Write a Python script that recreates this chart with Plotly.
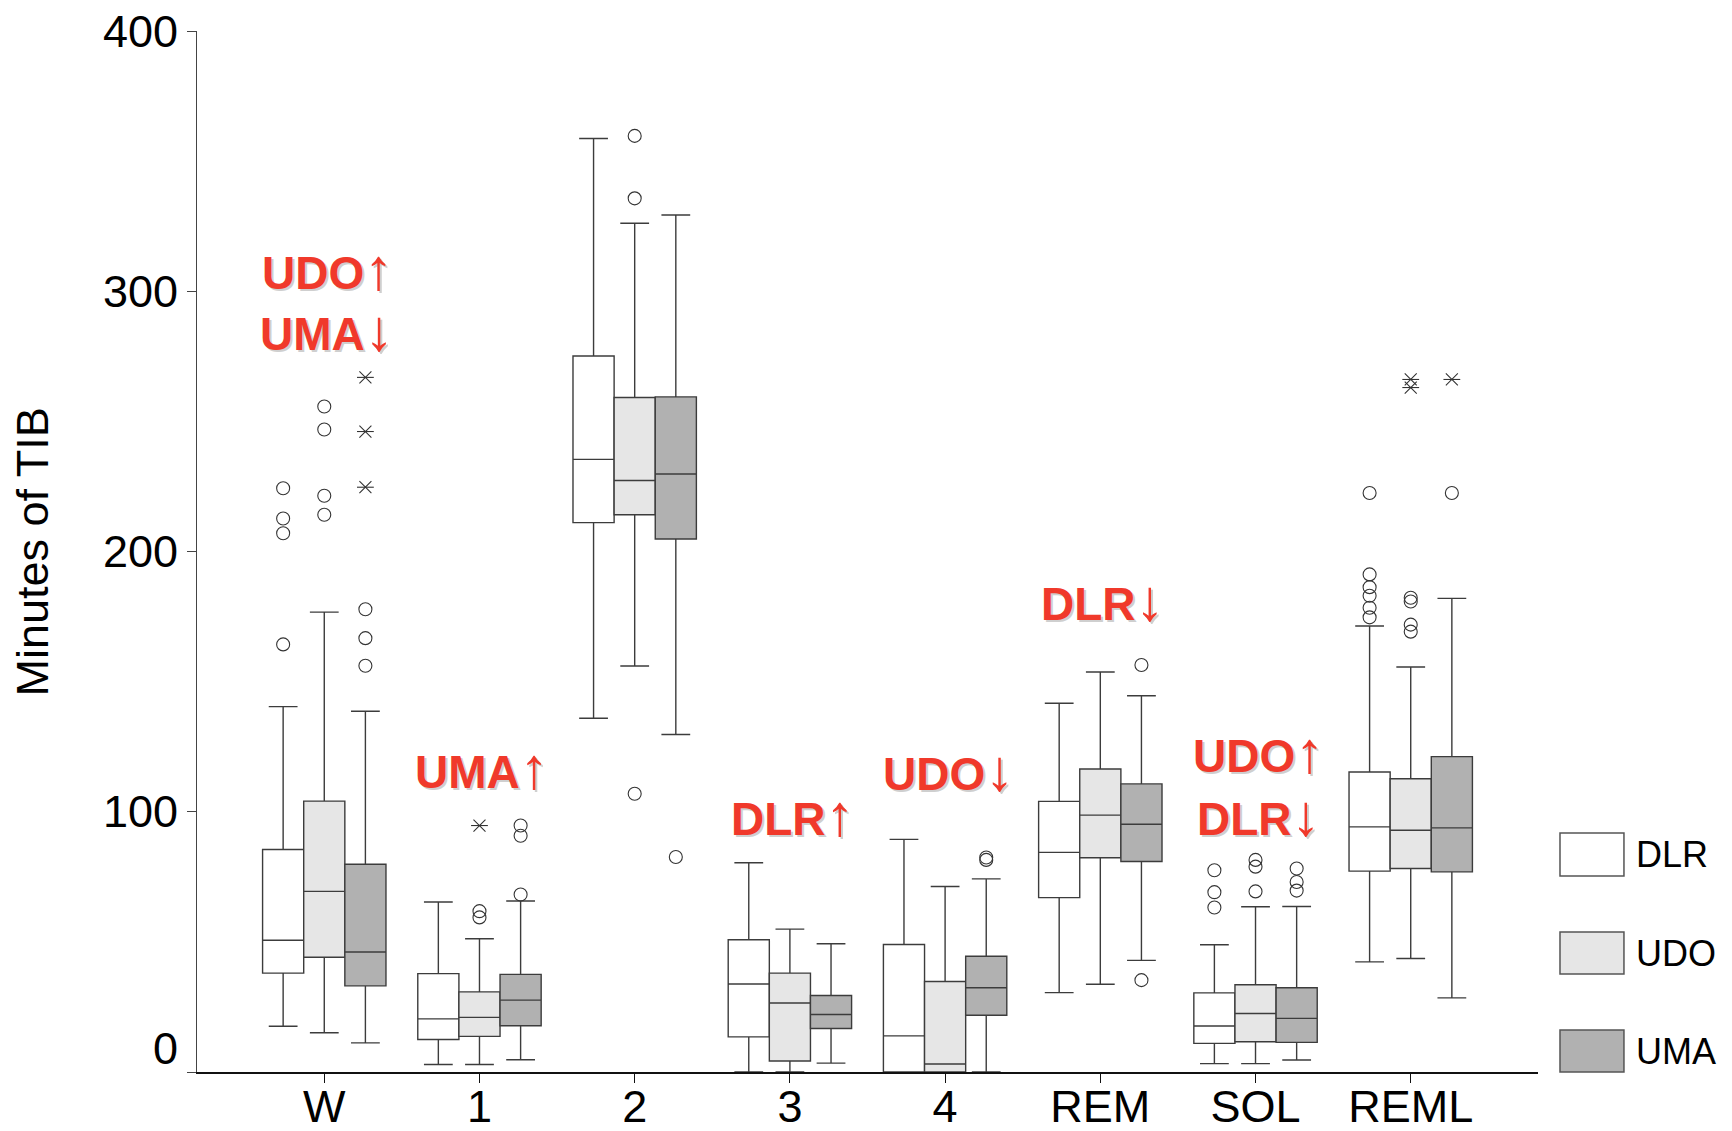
import plotly.graph_objects as go

# ---------------- data ----------------
categories = ["W", "1", "2", "3", "4", "REM", "SOL", "REML"]
groups = ["DLR", "UDO", "UMA"]
y_ticks = [0, 100, 200, 300, 400]

dlr_q1 = [38.0, 12.5, 211.1, 13.5, 0.0, 67.0, 11.0, 77.2]
dlr_median = [50.6, 20.4, 235.4, 33.8, 13.9, 84.4, 17.7, 94.2]
dlr_q3 = [85.5, 37.8, 275.1, 50.8, 49.0, 104.0, 30.4, 115.3]
dlr_lower = [17.6, 2.9, 135.9, 0.0, 0.0, 30.5, 3.2, 42.3]
dlr_upper = [140.4, 65.3, 358.7, 80.4, 89.4, 141.7, 48.9, 171.4]

udo_q1 = [44.1, 13.7, 214.1, 4.2, 0.0, 82.3, 11.6, 78.2]
udo_median = [69.4, 21.0, 227.3, 26.5, 3.1, 98.7, 22.5, 92.9]
udo_q3 = [104.1, 30.8, 259.2, 38.0, 34.8, 116.4, 33.5, 112.7]
udo_lower = [15.1, 2.9, 156.0, 0.0, 0.0, 33.7, 3.2, 43.6]
udo_upper = [176.7, 51.2, 326.1, 54.9, 71.3, 153.7, 63.5, 155.6]

uma_q1 = [33.1, 17.8, 204.8, 16.7, 21.8, 80.9, 11.4, 76.9]
uma_median = [46.1, 27.6, 229.8, 22.1, 32.4, 95.2, 20.6, 93.8]
uma_q3 = [79.8, 37.5, 259.4, 29.4, 44.5, 110.7, 32.4, 121.2]
uma_lower = [11.2, 4.7, 129.7, 3.4, 0.0, 42.9, 4.6, 28.5]
uma_upper = [138.6, 65.7, 329.3, 49.3, 74.2, 144.6, 63.6, 182.0]

# outliers (circles)
dlr_out_cat = ["W", "W", "W", "W", "SOL", "SOL", "SOL",
               "REML", "REML", "REML", "REML", "REML", "REML"]
dlr_out_val = [164.3, 207.0, 212.7, 224.3, 77.5, 69.1, 63.2,
               222.5, 191.2, 186.3, 183.0, 178.4, 174.7]
udo_out_cat = ["W", "W", "W", "W", "1", "1", "2", "2", "2",
               "SOL", "SOL", "SOL", "REML", "REML", "REML", "REML"]
udo_out_val = [214.1, 221.4, 246.9, 255.7, 61.8, 59.4, 359.7, 335.7, 106.9,
               81.5, 78.9, 69.4, 182.2, 180.8, 171.9, 169.2]
uma_out_cat = ["W", "W", "W", "1", "1", "1", "2", "4", "4", "REM", "REM",
               "SOL", "SOL", "SOL", "REML"]
uma_out_val = [156.1, 166.7, 177.8, 68.2, 94.7, 90.8, 82.6, 82.4, 81.5,
               156.4, 35.3, 78.2, 73.0, 69.7, 222.5]

# extreme values (asterisks)
dlr_ext_cat = []
dlr_ext_val = []
udo_ext_cat = ["1", "REML", "REML"]
udo_ext_val = [94.7, 266.1, 263.0]
uma_ext_cat = ["W", "W", "W", "REML"]
uma_ext_val = [224.7, 246.1, 266.9, 266.1]

# significance annotations
note_cat = ["W", "W", "1", "3", "4", "REM", "SOL", "SOL"]
note_val = [308.7, 285.3, 116.9, 98.8, 116.1, 181.5, 123.0, 98.8]
note_label = ["UDO", "UMA", "UMA", "DLR", "UDO", "DLR", "UDO", "DLR"]
note_arrow = ["↑", "↓", "↑", "↑", "↓", "↓", "↑", "↓"]

# ---------------- styling ----------------
fills = {"DLR": "#FFFFFF", "UDO": "#E6E6E6", "UMA": "#B1B1B1"}
offsets = {"DLR": -0.265, "UDO": 0.0, "UMA": 0.265}
BOXW = 0.265
LINE = "#3C3C3C"
FONT = "Arial, Liberation Sans, sans-serif"
RED = "#F0392B"

stats = {
    "DLR": (dlr_q1, dlr_median, dlr_q3, dlr_lower, dlr_upper),
    "UDO": (udo_q1, udo_median, udo_q3, udo_lower, udo_upper),
    "UMA": (uma_q1, uma_median, uma_q3, uma_lower, uma_upper),
}
outs = {
    "DLR": (dlr_out_cat, dlr_out_val, dlr_ext_cat, dlr_ext_val),
    "UDO": (udo_out_cat, udo_out_val, udo_ext_cat, udo_ext_val),
    "UMA": (uma_out_cat, uma_out_val, uma_ext_cat, uma_ext_val),
}

fig = go.Figure()
idx = {c: i for i, c in enumerate(categories)}

for g in groups:
    q1, med, q3, lo, hi = stats[g]
    xs = [i + offsets[g] for i in range(len(categories))]
    fig.add_trace(go.Box(
        x=xs, q1=q1, median=med, q3=q3, lowerfence=lo, upperfence=hi,
        width=BOXW, whiskerwidth=0.7, boxpoints=False,
        fillcolor=fills[g], line=dict(color=LINE, width=1.4),
        name=g, showlegend=False,
    ))

for g in groups:
    oc, ov, ec, ev = outs[g]
    fig.add_trace(go.Scatter(
        x=[idx[c] + offsets[g] for c in oc], y=ov, mode="markers",
        marker=dict(symbol="circle-open", size=13, color="#333333",
                    line=dict(width=1.1, color="#333333")),
        showlegend=False, hoverinfo="y",
    ))
    if ec:
        for sym in ("x-thin-open", "line-ew-open"):
            fig.add_trace(go.Scatter(
                x=[idx[c] + offsets[g] for c in ec], y=ev, mode="markers",
                marker=dict(symbol=sym, size=12, color="#333333",
                            line=dict(width=1.1, color="#333333")),
                showlegend=False, hoverinfo="y",
            ))

annotations = []
# significance labels with soft shadow
for c, v, lab, arr in zip(note_cat, note_val, note_label, note_arrow):
    txt = f"<b>{lab}</b><span style='font-size:58px'>{arr}</span>"
    annotations.append(dict(x=idx[c], y=v, xref="x", yref="y", text=txt,
                            showarrow=False, xshift=5, yshift=-2,
                            font=dict(family=FONT, size=46, color="#CFCFCF")))
    annotations.append(dict(x=idx[c], y=v, xref="x", yref="y", text=txt,
                            showarrow=False, xshift=3, yshift=0,
                            font=dict(family=FONT, size=46, color=RED)))

# y-axis title
annotations.append(dict(x=-0.1223, y=0.5, xref="paper", yref="paper",
                        text="Minutes of TIB", textangle=-90, showarrow=False,
                        xanchor="center", yanchor="middle",
                        font=dict(family=FONT, size=45, color="black")))
# y tick labels drawn as text next to the axis ("0" sits slightly raised)
for t in y_ticks:
    annotations.append(dict(x=-0.0127, y=t, xref="paper", yref="y", text=str(t),
                            showarrow=False, xanchor="right", yanchor="middle",
                            yshift=24 if t == 0 else 0,
                            font=dict(family=FONT, size=45, color="black")))

# custom legend
shapes = []
leg_y = [(0.1883, 0.2296), (0.0941, 0.1345), (0.0, 0.0403)]
for g, (y0, y1) in zip(groups, leg_y):
    shapes.append(dict(type="rect", xref="paper", yref="paper",
                       x0=1.0164, x1=1.0641, y0=y0, y1=y1,
                       fillcolor=fills[g], line=dict(color="#555555", width=1.5)))
    annotations.append(dict(x=1.0716, y=(y0 + y1) / 2, xref="paper", yref="paper",
                            text=g, showarrow=False, xanchor="left", yanchor="middle",
                            font=dict(family=FONT, size=36, color="black")))

fig.update_layout(
    width=1732, height=1131,
    margin=dict(l=189, r=202, t=23, b=67, autoexpand=False),
    paper_bgcolor="white", plot_bgcolor="white",
    boxmode="overlay",
    showlegend=False,
    annotations=annotations,
    shapes=shapes,
    xaxis=dict(
        range=[-0.82, 7.82], automargin=False,
        tickmode="array", tickvals=list(range(len(categories))), ticktext=categories,
        showline=True, linecolor="#111111", linewidth=1.8,
        ticks="outside", ticklen=9, tickcolor="#111111", tickwidth=1.2,
        ticklabelstandoff=-15,
        showgrid=False, zeroline=False,
        tickfont=dict(family=FONT, size=45, color="black"),
    ),
    yaxis=dict(
        range=[0, 400], automargin=False,
        tickmode="array", tickvals=y_ticks, showticklabels=False,
        showline=True, linecolor="#444444", linewidth=1.2,
        ticks="outside", ticklen=9, tickcolor="#444444", tickwidth=1.2,
        showgrid=False, zeroline=False,
    ),
)

fig.write_html("out.html")
